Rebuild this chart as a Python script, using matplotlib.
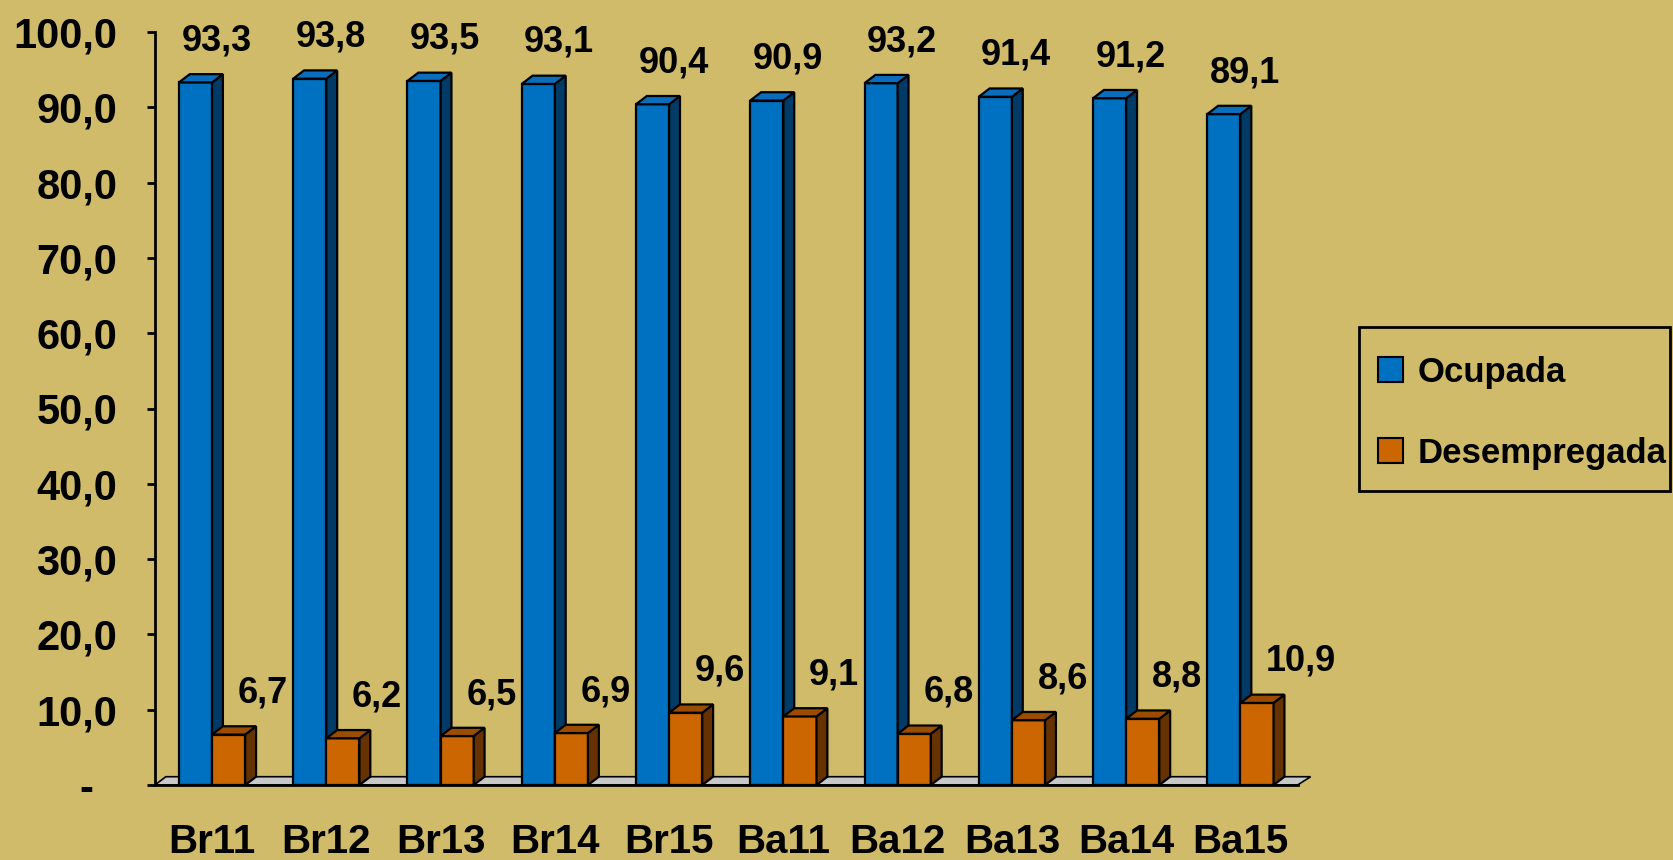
import matplotlib
matplotlib.use("Agg")
from matplotlib import pyplot as plt
from matplotlib.patches import Polygon, Patch, Rectangle

categories = ["Br11", "Br12", "Br13", "Br14", "Br15",
              "Ba11", "Ba12", "Ba13", "Ba14", "Ba15"]
ocupada = [93.3, 93.8, 93.5, 93.1, 90.4, 90.9, 93.2, 91.4, 91.2, 89.1]
desempregada = [6.7, 6.2, 6.5, 6.9, 9.6, 9.1, 6.8, 8.6, 8.8, 10.9]
yticks = [0, 10, 20, 30, 40, 50, 60, 70, 80, 90, 100]

BG = "#CFBB6A"
FONT = ["Liberation Sans", "DejaVu Sans"]
plt.rcParams["font.family"] = FONT
plt.rcParams["font.weight"] = "bold"

# series: (values, front, side, top)
SERIES = [
    (ocupada, "#0070C0", "#003A66", "#0A6EBC"),
    (desempregada, "#CC6600", "#663300", "#9A4D00"),
]
W = 0.29      # bar width (category units)
DX = 0.095    # depth offset, x units
DY = 1.1      # depth offset, y units


def bar3d(ax, x0, h, front, side, top):
    ax.add_patch(Polygon([(x0, 0), (x0 + W, 0), (x0 + W, h), (x0, h)],
                         fc=front, ec="black", lw=1.6, zorder=3))
    ax.add_patch(Polygon([(x0 + W, 0), (x0 + W + DX, DY),
                          (x0 + W + DX, h + DY), (x0 + W, h)],
                         fc=side, ec="black", lw=1.6, zorder=3))
    ax.add_patch(Polygon([(x0, h), (x0 + DX, h + DY),
                          (x0 + W + DX, h + DY), (x0 + W, h)],
                         fc=top, ec="black", lw=1.6, zorder=3))


fig = plt.figure(figsize=(16.73, 8.6), dpi=100, facecolor=BG)
ax = fig.add_axes([0.0926, 0.0872, 0.683, 0.8756])
ax.set_facecolor(BG)
ax.set_xlim(-0.5, 9.5)
ax.set_ylim(0, 100)

# floor
ax.add_patch(Polygon([(-0.5, 0), (9.5, 0), (9.5 + DX * 1.2, DY), (-0.5 + DX, DY)],
                     fc="#C8C8C8", ec="black", lw=1.2, zorder=1, clip_on=False))

for i in range(len(categories)):
    for k, (vals, front, side, top) in enumerate(SERIES):
        x0 = i - W + k * W
        bar3d(ax, x0, vals[i], front, side, top)
    ax.annotate(f"{ocupada[i]:.1f}".replace(".", ","),
                (i - W / 2, ocupada[i]), xytext=(21, 32),
                textcoords="offset pixels", ha="center", va="baseline",
                fontsize=26, fontweight="bold", annotation_clip=False)
    ax.annotate(f"{desempregada[i]:.1f}".replace(".", ","),
                (i + W / 2, desempregada[i]), xytext=(9, 32),
                textcoords="offset pixels", ha="left", va="baseline",
                fontsize=26, fontweight="bold", annotation_clip=False)

for s in ["top", "right"]:
    ax.spines[s].set_visible(False)
ax.spines["left"].set_linewidth(2)
ax.spines["bottom"].set_linewidth(2)
ax.spines["bottom"].set_zorder(4)

ax.set_yticks(yticks)
ax.set_yticklabels(["-  "] + [f"{v:.1f}".replace(".", ",") for v in yticks[1:]],
                   fontsize=30, fontweight="bold")
ax.tick_params(axis="y", length=6, width=2, pad=21)
ax.set_xticks(range(len(categories)))
ax.set_xticklabels(categories, fontsize=29, fontweight="bold")
ax.tick_params(axis="x", length=0, pad=27)

# legend
handles = [Patch(fc=SERIES[0][1], ec="black", lw=1.5),
           Patch(fc=SERIES[1][1], ec="black", lw=1.5)]
fig.legend(handles, ["Ocupada", "Desempregada"],
           loc="upper left", bbox_to_anchor=(1378 / 1673, 1 - 356 / 860),
           prop={"family": FONT, "weight": "bold", "size": 25},
           frameon=False, borderpad=0, borderaxespad=0,
           handlelength=0.72, handleheight=0.72, handletextpad=0.42,
           labelspacing=1.37)
fig.patches.append(Rectangle((1359 / 1673, 1 - 491 / 860), 311 / 1673, 164 / 860,
                             transform=fig.transFigure, fill=False,
                             ec="black", lw=2))

fig.savefig("out.png", dpi=100, facecolor=BG)
